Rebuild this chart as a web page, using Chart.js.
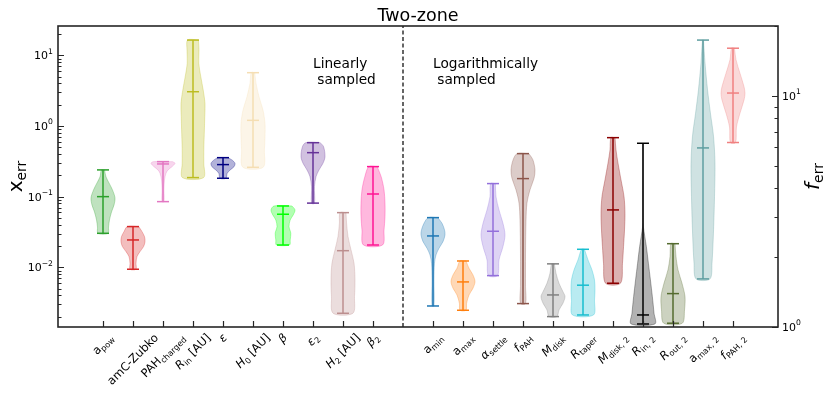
<!DOCTYPE html>
<html><head><meta charset="utf-8">
<script src="https://cdn.jsdelivr.net/npm/chart.js@4.4.1/dist/chart.umd.min.js"></script>
<style>html,body{margin:0;padding:0;background:#fff;}</style>
</head><body>
<canvas id="c" width="830" height="398"></canvas>
<script>
// ---------------- DATA ----------------
const categories = ['a_pow','amC-Zubko','PAH_charged','R_in [AU]','ε','H_0 [AU]','β','ε_2','H_2 [AU]','β_2',
  'a_min','a_max','α_settle','f_PAH','M_disk','R_taper','M_disk,2','R_in,2','R_out,2','a_max,2','f_PAH,2'];
const positions = [0,1,2,3,4,5,6,7,8,9,11,12,13,14,15,16,17,18,19,20,21];
const dividerPosition = 10;
const axisOf = ['y','y','y','y','y','y','y','y','y','y','y','y','y','y','y','y','y','y','y','y','y2'];
const mins    = [0.0303,0.0094,0.085,0.186,0.182,0.26,0.0207,0.081,0.00224,0.0207,
                 0.00284,0.00247,0.00764,0.00307,0.00201,0.00212,0.00596,0.00158,0.00162,0.00686,6.29];
const medians = [0.100,0.0244,0.290,3.05,0.284,1.2,0.0564,0.419,0.0172,0.109,
                 0.0278,0.00622,0.0324,0.18,0.00407,0.00559,0.0649,0.00212,0.00425,0.489,10.3];
const maxs    = [0.239,0.0377,0.313,16.4,0.356,5.67,0.0738,0.58,0.0594,0.266,
                 0.0505,0.0123,0.153,0.406,0.0112,0.018,0.683,0.569,0.0216,16.4,16.1];
// violin density profiles: [log10(value), relative density]
const profiles = [
 [[-0.622,0.13],[-0.72,0.25],[-0.806,0.5],[-0.905,0.79],[-1.018,1],[-1.117,0.92],[-1.216,0.71],[-1.33,0.54],[-1.429,0.46],[-1.518,0.42]],
 [[-1.424,0.48],[-1.495,0.75],[-1.566,0.96],[-1.637,1],[-1.707,0.88],[-1.778,0.58],[-1.849,0.33],[-1.942,0.25],[-2.027,0.25]],
 [[-0.505,0.8],[-0.528,1],[-0.576,0.75],[-0.622,0.42],[-0.669,0.25],[-0.764,0.12],[-0.905,0.08],[-1.071,0.08]],
 [[1.216,0.45],[1.075,0.5],[0.887,0.48],[0.697,0.65],[0.509,0.85],[0.321,1],[0.132,0.98],[-0.057,0.95],[-0.339,0.9],[-0.528,0.9],[-0.731,0.88]],
 [[-0.448,0.4],[-0.481,0.75],[-0.528,1],[-0.576,0.92],[-0.622,0.6],[-0.669,0.35],[-0.74,0.25]],
 [[0.754,0.15],[0.604,0.25],[0.414,0.5],[0.226,0.83],[0.038,1],[-0.151,1],[-0.339,0.95],[-0.584,0.85]],
 [[-1.132,0.75],[-1.188,1],[-1.259,0.85],[-1.33,0.6],[-1.424,0.5],[-1.518,0.65],[-1.613,0.6],[-1.683,0.55]],
 [[-0.236,0.6],[-0.293,0.88],[-0.434,1],[-0.528,0.83],[-0.622,0.5],[-0.717,0.25],[-0.858,0.12],[-1.093,0.12]],
 [[-1.226,0.25],[-1.376,0.3],[-1.566,0.42],[-1.754,0.67],[-1.942,0.92],[-2.178,1],[-2.414,0.96],[-2.649,0.83]],
 [[-0.576,0.35],[-0.717,0.68],[-0.905,0.92],[-1.093,1],[-1.283,1],[-1.471,0.92],[-1.683,0.8]],
 [[-1.297,0.4],[-1.376,0.75],[-1.471,0.96],[-1.542,1],[-1.637,0.83],[-1.73,0.5],[-1.825,0.25],[-1.942,0.12],[-2.178,0.08],[-2.546,0.08]],
 [[-1.909,0.25],[-2.013,0.5],[-2.107,0.83],[-2.202,1],[-2.296,0.83],[-2.391,0.5],[-2.508,0.3],[-2.607,0.25]],
 [[-0.816,0.2],[-1.0,0.25],[-1.188,0.5],[-1.376,0.83],[-1.542,1],[-1.707,0.83],[-1.896,0.5],[-2.117,0.38]],
 [[-0.392,0.5],[-0.481,0.83],[-0.622,1],[-0.74,0.92],[-0.905,0.58],[-1.093,0.33],[-1.33,0.25],[-1.801,0.21],[-2.273,0.21],[-2.513,0.21]],
 [[-1.952,0.12],[-2.084,0.25],[-2.225,0.5],[-2.344,0.83],[-2.414,1],[-2.508,0.83],[-2.603,0.5],[-2.697,0.33]],
 [[-1.744,0.12],[-1.896,0.42],[-2.037,0.75],[-2.179,0.96],[-2.32,1],[-2.461,0.96],[-2.673,0.88]],
 [[-0.166,0.17],[-0.339,0.25],[-0.528,0.42],[-0.764,0.67],[-1.0,0.92],[-1.235,1],[-1.471,0.96],[-1.707,0.88],[-1.942,0.79],[-2.225,0.62]],
 [[-0.245,0.0],[-1.3,0.0],[-1.424,0.03],[-1.707,0.28],[-1.942,0.45],[-2.179,0.62],[-2.414,0.78],[-2.649,0.92],[-2.8,1]],
 [[-1.665,0.17],[-1.849,0.25],[-2.037,0.42],[-2.225,0.75],[-2.414,1],[-2.603,0.96],[-2.791,0.77]],
 [[1.216,0.04],[0.887,0.17],[0.509,0.38],[0.18,0.62],[-0.151,0.88],[-0.528,1],[-1.0,0.96],[-1.471,0.88],[-1.942,0.75],[-2.164,0.58]],
 [[1.208,0.12],[1.157,0.25],[1.099,0.58],[1.04,0.92],[1.012,1],[0.983,0.92],[0.925,0.58],[0.866,0.29],[0.798,0.21]]
];
const colors = ['#2ca02c','#d62728','#e377c2','#bcbd22','#000080','#f5deb3','#00ff00','#663399','#bc8f8f','#ff1493',
  '#1f77b4','#ff7f0e','#9370db','#8c564b','#808080','#17becf','#8b0000','#000000','#556b2f','#5f9ea0','#f08080'];
// tick labels: [text, style] n=normal, i=italic, s=subscript
const tickLabels = [
 [['a','n'],['pow','s']],
 [['amC-Zubko','n']],
 [['PAH','n'],['charged','s']],
 [['R','i'],['in','s'],[' [AU]','n']],
 [['ε','i']],
 [['H','i'],['0','s'],[' [AU]','n']],
 [['β','i']],
 [['ε','i'],['2','s']],
 [['H','i'],['2','s'],[' [AU]','n']],
 [['β','i'],['2','s']],
 [['a','n'],['min','s']],
 [['a','n'],['max','s']],
 [['α','i'],['settle','s']],
 [['f','i'],['PAH','s']],
 [['M','i'],['disk','s']],
 [['R','i'],['taper','s']],
 [['M','i'],['disk, 2','s']],
 [['R','i'],['in, 2','s']],
 [['R','i'],['out, 2','s']],
 [['a','n'],['max, 2','s']],
 [['f','i'],['PAH, 2','s']]
];
const leftDecades = [-2,-1,0,1];
const rightDecades = [0,1];
const titleText = 'Two-zone';
const noteLeft = ['Linearly',' sampled'];
const noteRight = ['Logarithmically',' sampled'];

// ---------------- STYLE ----------------
const FONT = '"DejaVu Sans"';
const HALF_W = 0.4, CAP = 0.2;
const xMin = -1.5, xMax = 22.5;
const yMin = Math.pow(10,-2.844), yMax = Math.pow(10,1.414);
const y2Min = 1, y2Max = Math.pow(10,1.303);
function rgba(hex,a){const n=parseInt(hex.slice(1),16);return `rgba(${n>>16&255},${n>>8&255},${n&255},${a})`;}

const datasets = [];
positions.forEach((p,i)=>{
  const prof = profiles[i], col = colors[i], ax = axisOf[i];
  const pts = [];
  prof.forEach(([lg,d])=>pts.push({x:p+d*HALF_W, y:Math.pow(10,lg)}));
  for(let k=prof.length-1;k>=0;k--) pts.push({x:p-prof[k][1]*HALF_W, y:Math.pow(10,prof[k][0])});
  pts.push(pts[0]);
  datasets.push({data:pts, yAxisID:ax, showLine:true, fill:'shape', tension:0.3,
    backgroundColor:rgba(col,0.3), borderColor:rgba(col,0.3), borderWidth:1, pointRadius:0, order:3});
  const seg = (a,b)=>datasets.push({data:[a,b], yAxisID:ax, showLine:true, fill:false, borderColor:col,
    borderWidth:1.5, pointRadius:0, order:2});
  seg({x:p,y:mins[i]},{x:p,y:maxs[i]});
  seg({x:p-CAP,y:mins[i]},{x:p+CAP,y:mins[i]});
  seg({x:p-CAP,y:maxs[i]},{x:p+CAP,y:maxs[i]});
  seg({x:p-CAP,y:medians[i]},{x:p+CAP,y:medians[i]});
});
datasets.push({data:[{x:dividerPosition,y:yMin},{x:dividerPosition,y:yMax}], yAxisID:'y', showLine:true, fill:false,
  borderColor:'#333333', borderWidth:1.5, borderDash:[4,2.5], pointRadius:0, order:1});

function segFont(s,base){const sz=(s==='s'||s==='u')?base*0.7:base;return (s==='i'?'italic ':'')+sz+'px '+FONT;}
function measure(ctx,segs,base){let w=0;for(const [t,s] of segs){ctx.font=segFont(s,base);w+=ctx.measureText(t).width;}return w;}
function drawSegs(ctx,segs,x,y,base){for(const [t,s] of segs){ctx.font=segFont(s,base);
  const dy = s==='s'?base*0.22:(s==='u'?-base*0.42:0); ctx.fillText(t,x,y+dy); x+=ctx.measureText(t).width;}}

const decor = {
  id:'decor',
  afterDraw(chart){
    const ctx=chart.ctx, a=chart.chartArea, xs=chart.scales.x, ys=chart.scales.y, y2=chart.scales.y2;
    ctx.save();
    ctx.fillStyle='#000'; ctx.strokeStyle='#262626';
    // ticks
    ctx.lineWidth=1.2;
    ctx.beginPath();
    positions.forEach(p=>{const x=Math.round(xs.getPixelForValue(p))+0.5; ctx.moveTo(x,a.bottom); ctx.lineTo(x,a.bottom-6);});
    for(let d=-4; d<=2; d++) for(let m=1;m<=9;m++){
      const v=m*Math.pow(10,d); if(v<yMin||v>yMax) continue;
      const y=Math.round(ys.getPixelForValue(v))+0.5; const L=m===1?6:3.5;
      ctx.moveTo(a.left,y); ctx.lineTo(a.left+L,y);
    }
    for(let d=-1; d<=2; d++) for(let m=1;m<=9;m++){
      const v=m*Math.pow(10,d); if(v<y2Min||v>y2Max) continue;
      const y=Math.round(y2.getPixelForValue(v))+0.5; const L=m===1?6:3.5;
      ctx.moveTo(a.right,y); ctx.lineTo(a.right-L,y);
    }
    ctx.stroke();
    // frame
    ctx.lineWidth=1.6;
    ctx.strokeRect(a.left,a.top,a.right-a.left,a.bottom-a.top);
    // y tick labels
    const fs=11;
    ctx.textBaseline='middle';
    leftDecades.forEach(d=>{
      const y=ys.getPixelForValue(Math.pow(10,d));
      const segs=[['10','n'],[d<0?'\u2212'+(-d):String(d),'u']];
      const w=measure(ctx,segs,fs); drawSegs(ctx,segs,a.left-5-w,y+1,fs);
    });
    rightDecades.forEach(d=>{
      const y=y2.getPixelForValue(Math.pow(10,d));
      const segs=[['10','n'],[String(d),'u']];
      drawSegs(ctx,segs,a.right+4,y+1,fs);
    });
    // x tick labels (rotated 45)
    const fx=11.6;
    ctx.textBaseline='alphabetic';
    positions.forEach((p,i)=>{
      const segs=tickLabels[i]; const w=measure(ctx,segs,fx); const h=fx*1.2;
      const cx=xs.getPixelForValue(p); const cy=a.bottom+4+(w+h)/(2*Math.SQRT2);
      ctx.save(); ctx.translate(cx,cy); ctx.rotate(-Math.PI/4);
      drawSegs(ctx,segs,-w/2,fx*0.3,fx); ctx.restore();
    });
    // axis titles
    const cyMid=(a.top+a.bottom)/2;
    let segs=[['x','n'],['err','s']];
    ctx.save(); ctx.translate(16,cyMid); ctx.rotate(-Math.PI/2);
    let w=measure(ctx,segs,20); drawSegs(ctx,segs,-w/2,5.5,20); ctx.restore();
    segs=[['f','i'],['err','s']];
    ctx.save(); ctx.translate(813,cyMid); ctx.rotate(-Math.PI/2);
    w=measure(ctx,segs,20); drawSegs(ctx,segs,-w/2,6,20); ctx.restore();
    // title
    ctx.font='17.5px '+FONT; ctx.textAlign='center';
    ctx.fillText(titleText,(a.left+a.right)/2,20.5);
    // notes
    ctx.textAlign='left'; ctx.font='13.7px '+FONT;
    ctx.fillText(noteLeft[0],313,67.5); ctx.fillText(noteLeft[1],313,83.5);
    ctx.fillText(noteRight[0],433,67.5); ctx.fillText(noteRight[1],433,83.5);
    ctx.restore();
  }
};

new Chart(document.getElementById('c'),{
  type:'scatter',
  data:{datasets},
  options:{
    responsive:false, animation:false, devicePixelRatio:1,
    layout:{padding:{left:58,right:52,top:26,bottom:71}},
    plugins:{legend:{display:false},tooltip:{enabled:false},title:{display:false}},
    scales:{
      x:{type:'linear',min:xMin,max:xMax,display:false},
      y:{type:'logarithmic',min:yMin,max:yMax,display:false},
      y2:{type:'logarithmic',min:y2Min,max:y2Max,display:false,position:'right'}
    }
  },
  plugins:[decor]
});
</script>
</body></html>
